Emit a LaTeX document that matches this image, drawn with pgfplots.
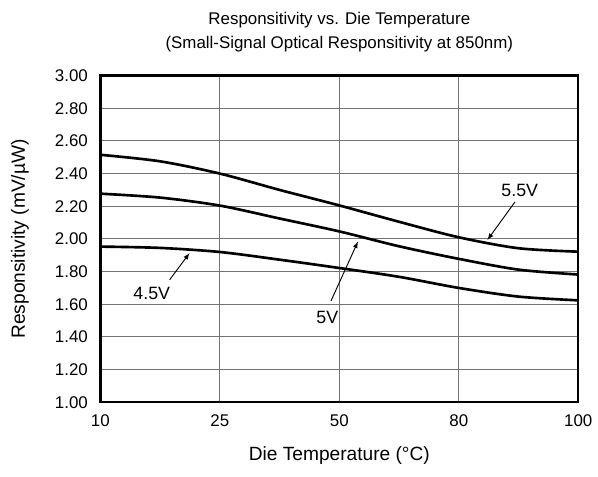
\documentclass[border=0pt]{standalone}
\usepackage{pgfplots}
\pgfplotsset{compat=1.18}
\usepackage{fontspec}
\setmainfont{Liberation Sans}
\begin{document}
\fontsize{12.8}{15}\selectfont
\begin{tikzpicture}
\begin{axis}[
  scale only axis,
  width=362pt, height=247.5pt,
  xmin=0, xmax=4, ymin=1, ymax=3,
  xtick={0,1,2,3,4},
  xticklabels={10,25,50,80,100},
  ytick={1,1.2,...,3.01},
  yticklabel style={xshift=-5pt, /pgf/number format/fixed,
    /pgf/number format/fixed zerofill, /pgf/number format/precision=2},
  /pgf/number format/assume math mode=true,
  xticklabel style={yshift=-5pt},
  grid=major,
  major grid style={black!55, line width=0.75pt},
  axis line style={line width=1.8pt},
  tick style={draw=none},
  xlabel={Die Temperature (\textdegree C)},
  ylabel={Responsitivity (mV/\textmu W)},
  every axis x label/.style={at={(axis description cs:0.5,0)}, anchor=center, yshift=-40pt,
    font=\fontsize{14.5}{17}\selectfont},
  every axis y label/.style={at={(axis description cs:0,0.5)}, anchor=center, rotate=90, yshift=61pt,
    font=\fontsize{14.5}{17}\selectfont},
  title={Responsitivity vs. Die Temperature\\(Small-Signal Optical Responsitivity at 850nm)},
  every axis title/.style={at={(axis description cs:0.5,1)}, anchor=center, yshift=33pt,
    align=center, font=\fontsize{12.8}{18}\selectfont},
]
% 5.5V
\addplot[black, line width=2pt, smooth] coordinates {(0,2.515) (0.5,2.475) (1,2.40) (1.5,2.30) (2,2.205) (2.5,2.105) (3,2.01) (3.5,1.943) (4,1.922)};
% 5V
\addplot[black, line width=2pt, smooth] coordinates {(0,2.277) (0.5,2.253) (1,2.204) (1.5,2.125) (2,2.046) (2.5,1.955) (3,1.878) (3.5,1.812) (4,1.782)};
% 4.5V
\addplot[black, line width=2pt, smooth] coordinates {(0,1.953) (0.5,1.945) (1,1.92) (1.5,1.873) (2,1.822) (2.5,1.768) (3,1.70) (3.5,1.647) (4,1.624)};

\begin{scope}[font=\fontsize{13.5}{16}\selectfont]
\node at (axis cs:3.51,2.297) {5.5V};
\draw[-latex, line width=0.7pt] (axis cs:3.47,2.226) -- (axis cs:3.24,1.994);
\node at (axis cs:1.9,1.52) {5V};
\draw[-latex, line width=0.7pt] (axis cs:1.93,1.62) -- (axis cs:2.156,1.984);
\node at (axis cs:0.43,1.667) {4.5V};
\draw[-latex, line width=0.7pt] (axis cs:0.58,1.75) -- (axis cs:0.746,1.913);
\end{scope}
\end{axis}
\path ([yshift=5pt,xshift=-4pt]current bounding box.north west)
      ([yshift=-5pt]current bounding box.south east);
\end{tikzpicture}
\end{document}
